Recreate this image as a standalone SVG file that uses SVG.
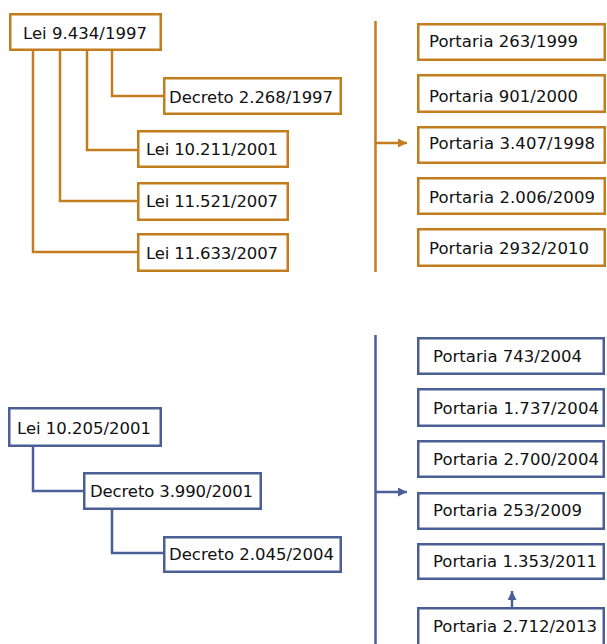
<svg xmlns="http://www.w3.org/2000/svg" width="607" height="644" viewBox="0 0 607 644">
<style>
  .o rect{fill:#fff;stroke:#C17D1E;stroke-width:2.5}
  .b rect{fill:#fff;stroke:#4A5F96;stroke-width:2.5}
  text{font-family:"DejaVu Sans","Verdana",sans-serif;font-size:16.5px;fill:#111}
  .co{fill:none;stroke:#C17D1E;stroke-width:2.5}
  .cb{fill:none;stroke:#4A5F96;stroke-width:2.5}
</style>
<defs>
  <marker id="ao" viewBox="0 0 10 10" refX="10" refY="5" markerWidth="10" markerHeight="9" markerUnits="userSpaceOnUse" orient="auto"><path d="M0,0 L10,5 L0,10 z" fill="#C17D1E"/></marker>
  <marker id="ab" viewBox="0 0 10 10" refX="10" refY="5" markerWidth="10" markerHeight="9" markerUnits="userSpaceOnUse" orient="auto"><path d="M0,0 L10,5 L0,10 z" fill="#4A5F96"/></marker>
</defs>
<rect width="607" height="644" fill="#fff"/>
<g id="connectors">
  <path class="co" d="M112,51 V96 H164"/>
  <path class="co" d="M87,51 V150 H138"/>
  <path class="co" d="M60,51 V201 H138"/>
  <path class="co" d="M33,51 V252 H138"/>
  <path class="co" d="M375.5,21 V272"/>
  <path class="co" d="M375.5,143 H407" marker-end="url(#ao)"/>
  <path class="cb" d="M33,447 V491 H84"/>
  <path class="cb" d="M112,510 V553 H164"/>
  <path class="cb" d="M375.5,335 V644"/>
  <path class="cb" d="M375.5,492 H407" marker-end="url(#ab)"/>
  <path class="cb" d="M512,607 V591" marker-end="url(#ab)"/>
</g>
<g id="n1" class="o"><rect x="10.25" y="14.25" width="150.5" height="35.5"/><text x="23" y="38.5" textLength="124" lengthAdjust="spacing">Lei 9.434/1997</text></g>
<g id="n2" class="o"><rect x="164.25" y="78.25" width="176.5" height="35.5"/><text x="169" y="102.5" textLength="164" lengthAdjust="spacing">Decreto 2.268/1997</text></g>
<g id="n3" class="o"><rect x="138.25" y="131.25" width="149.5" height="35.5"/><text x="146" y="154.5" textLength="132" lengthAdjust="spacing">Lei 10.211/2001</text></g>
<g id="n4" class="o"><rect x="138.25" y="183.25" width="149.5" height="36.5"/><text x="146" y="206.5" textLength="132" lengthAdjust="spacing">Lei 11.521/2007</text></g>
<g id="n5" class="o"><rect x="138.25" y="234.25" width="149.5" height="36.5"/><text x="146" y="258.5" textLength="132" lengthAdjust="spacing">Lei 11.633/2007</text></g>
<g id="p1" class="o"><rect x="418.25" y="24.25" width="186.5" height="35.5"/><text x="429" y="46.5" textLength="149" lengthAdjust="spacing">Portaria 263/1999</text></g>
<g id="p2" class="o"><rect x="418.25" y="75.25" width="186.5" height="36.5"/><text x="429" y="102" textLength="149" lengthAdjust="spacing">Portaria 901/2000</text></g>
<g id="p3" class="o"><rect x="418.25" y="127.25" width="186.5" height="35.5"/><text x="429" y="148.5" textLength="166" lengthAdjust="spacing">Portaria 3.407/1998</text></g>
<g id="p4" class="o"><rect x="418.25" y="178.25" width="186.5" height="35.5"/><text x="429" y="203" textLength="166" lengthAdjust="spacing">Portaria 2.006/2009</text></g>
<g id="p5" class="o"><rect x="418.25" y="229.25" width="186.5" height="36.5"/><text x="429" y="253.5" textLength="160" lengthAdjust="spacing">Portaria 2932/2010</text></g>
<g id="m1" class="b"><rect x="9.25" y="408.25" width="151.5" height="37.5"/><text x="17" y="434" textLength="134" lengthAdjust="spacing">Lei 10.205/2001</text></g>
<g id="m2" class="b"><rect x="84.25" y="473.25" width="176.5" height="35.5"/><text x="90" y="496.5" textLength="163" lengthAdjust="spacing">Decreto 3.990/2001</text></g>
<g id="m3" class="b"><rect x="164.25" y="537.25" width="176.5" height="34.5"/><text x="169" y="559.5" textLength="165" lengthAdjust="spacing">Decreto 2.045/2004</text></g>
<g id="q1" class="b"><rect x="418.25" y="338.25" width="185.5" height="35.5"/><text x="433" y="362" textLength="149" lengthAdjust="spacing">Portaria 743/2004</text></g>
<g id="q2" class="b"><rect x="418.25" y="389.25" width="185.5" height="36.5"/><text x="433" y="413.5" textLength="166" lengthAdjust="spacing">Portaria 1.737/2004</text></g>
<g id="q3" class="b"><rect x="418.25" y="441.25" width="185.5" height="35.5"/><text x="433" y="464.5" textLength="166" lengthAdjust="spacing">Portaria 2.700/2004</text></g>
<g id="q4" class="b"><rect x="418.25" y="493.25" width="185.5" height="35.5"/><text x="433" y="515.5" textLength="149" lengthAdjust="spacing">Portaria 253/2009</text></g>
<g id="q5" class="b"><rect x="418.25" y="544.25" width="185.5" height="34.5"/><text x="433" y="567" textLength="164" lengthAdjust="spacing">Portaria 1.353/2011</text></g>
<g id="q6" class="b"><rect x="418.25" y="608.25" width="185.5" height="42"/><text x="433" y="632" textLength="164" lengthAdjust="spacing">Portaria 2.712/2013</text></g>
</svg>
